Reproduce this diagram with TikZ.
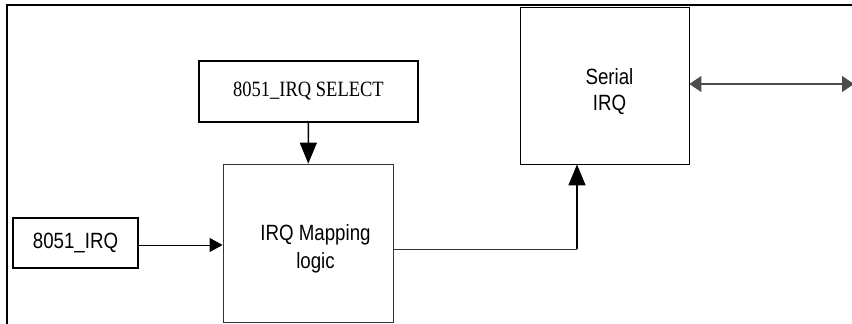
\documentclass[tikz,border=0pt]{standalone}
\usepackage{fontspec}
\setmainfont{Liberation Serif}
\newfontfamily\arialfont{Liberation Sans}
\usetikzlibrary{arrows.meta}

\newcommand{\tallt}[1]{\scalebox{1}[1.18]{#1}}
\newcommand{\lowt}[1]{\raisebox{-6pt}[\height][\depth]{\tallt{#1}}}

\tikzset{
	block/.style={draw, line width=0.8pt, align=center, inner sep=0pt, font=\arialfont\fontsize{18.7}{28}\selectfont},
	bigtip/.style={-{Triangle[length=21pt,width=17pt]}},
	smalltip/.style={-{Triangle[length=13pt,width=14pt]}}
}

\begin{document}
\begin{tikzpicture}[x=1pt,y=-1pt]
	\useasboundingbox (0,0) rectangle (852,324);
	% frame
	\draw[line width=2.4pt] (7,324) -- (7,5) -- (852,5);
	% blocks
	\node[block, minimum width=170pt, minimum height=158pt, draw=black!80] (map) at (308,243) {\hspace{15pt}\lowt{IRQ Mapping}\\\hspace{15pt}\lowt{logic}};
	\node[block, minimum width=169pt, minimum height=157pt] (ser) at (604.5,85.5) {\hspace{10pt}\lowt{Serial}\\[-2pt]\hspace{10pt}\lowt{IRQ}};
	\node[block, line width=1.4pt, minimum width=219pt, minimum height=61pt, font=\fontsize{18.5}{22}\selectfont] (sel) at (308.5,91.5) {\tallt{8051\_IRQ SELECT}};
	\node[block, line width=2.4pt, minimum width=125pt, minimum height=50pt] (irq) at (75.5,243) {\tallt{8051\_IRQ}};
	\coordinate (bend) at (577,249);
	\coordinate (out) at (854,84);
	% connectors
	\draw[line width=1.4pt, bigtip] (sel) -- (map);
	\draw[line width=0.8pt, smalltip] (irq.east |- 0,245) -- (map.west |- 0,245);
	\draw[line width=0.8pt, black!80] (map.east |- bend) -- (bend);
	\draw[line width=1.4pt, bigtip] (bend) -- (bend |- ser.south);
	\draw[line width=1.1pt, black!70, {Triangle[length=12pt,width=16pt]}-{Triangle[length=12pt,width=16pt]}] (ser.east |- out) -- (out);
\end{tikzpicture}
\end{document}
